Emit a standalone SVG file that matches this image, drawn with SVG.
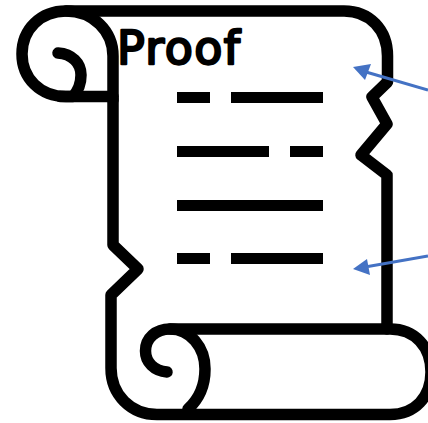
<svg xmlns="http://www.w3.org/2000/svg" width="428" height="423" viewBox="0 0 428 423">
<style>
.ln{fill:none;stroke:#000;stroke-width:11.500;stroke-linejoin:round;stroke-linecap:round}
.bar{fill:#000}
.arr{fill:none;stroke:#4472C4;stroke-width:3}
.head{fill:#4472C4}
.t{font-family:"DejaVu Sans","Liberation Sans",sans-serif;font-size:46px;font-weight:400;fill:#000;stroke:#000;stroke-width:2.400;stroke-linejoin:round;stroke-linecap:round}
</style>
<rect width="428" height="423" fill="#fff"/>
<g id="scroll">
<path class="ln" d="M66 11H344C370 11 387.500 30 387.500 56V82L372 97L387 124L361 155L387 175V329"/>
<path class="ln" d="M113 100V245L138 269L111 295V368C111 395 131 414.500 157 414.500H390C415 414.500 431 397 431 372C431 347 415 329 390 329H170"/>
<path class="ln" d="M58 53C72 54 81 63 81 75C81 86 77 92 73 96.500H66C40 96.500 22 78 22 54C22 29 41 11 66 11C93 11 113 31 113 56V100"/>
<path class="ln" d="M60 96.500H113"/>
<path class="ln" d="M167 372C154 371 145.500 362 145.500 351C145.500 338 156 329 170 329C190 329 205 347 205 369C205 386 198 400 188 409"/>
</g>
<g id="lines">
<rect class="bar" x="177" y="92" width="33" height="11"/>
<rect class="bar" x="231" y="92" width="92" height="11"/>
<rect class="bar" x="177" y="146" width="92" height="11"/>
<rect class="bar" x="290" y="146" width="33" height="11"/>
<rect class="bar" x="177" y="200" width="146" height="11"/>
<rect class="bar" x="177" y="253" width="33" height="11"/>
<rect class="bar" x="231" y="253" width="92" height="11"/>
</g>
<g id="title"><text class="t" x="117" y="64" textLength="123" lengthAdjust="spacing">Proof</text></g>
<g id="connectors">
<path class="arr" d="M428 90L366 72"/>
<polygon class="head" points="353,67 371,64 365,80"/>
<path class="arr" d="M428 256L368 266.500"/>
<polygon class="head" points="353,269 367,259 370,275"/>
</g>
</svg>
